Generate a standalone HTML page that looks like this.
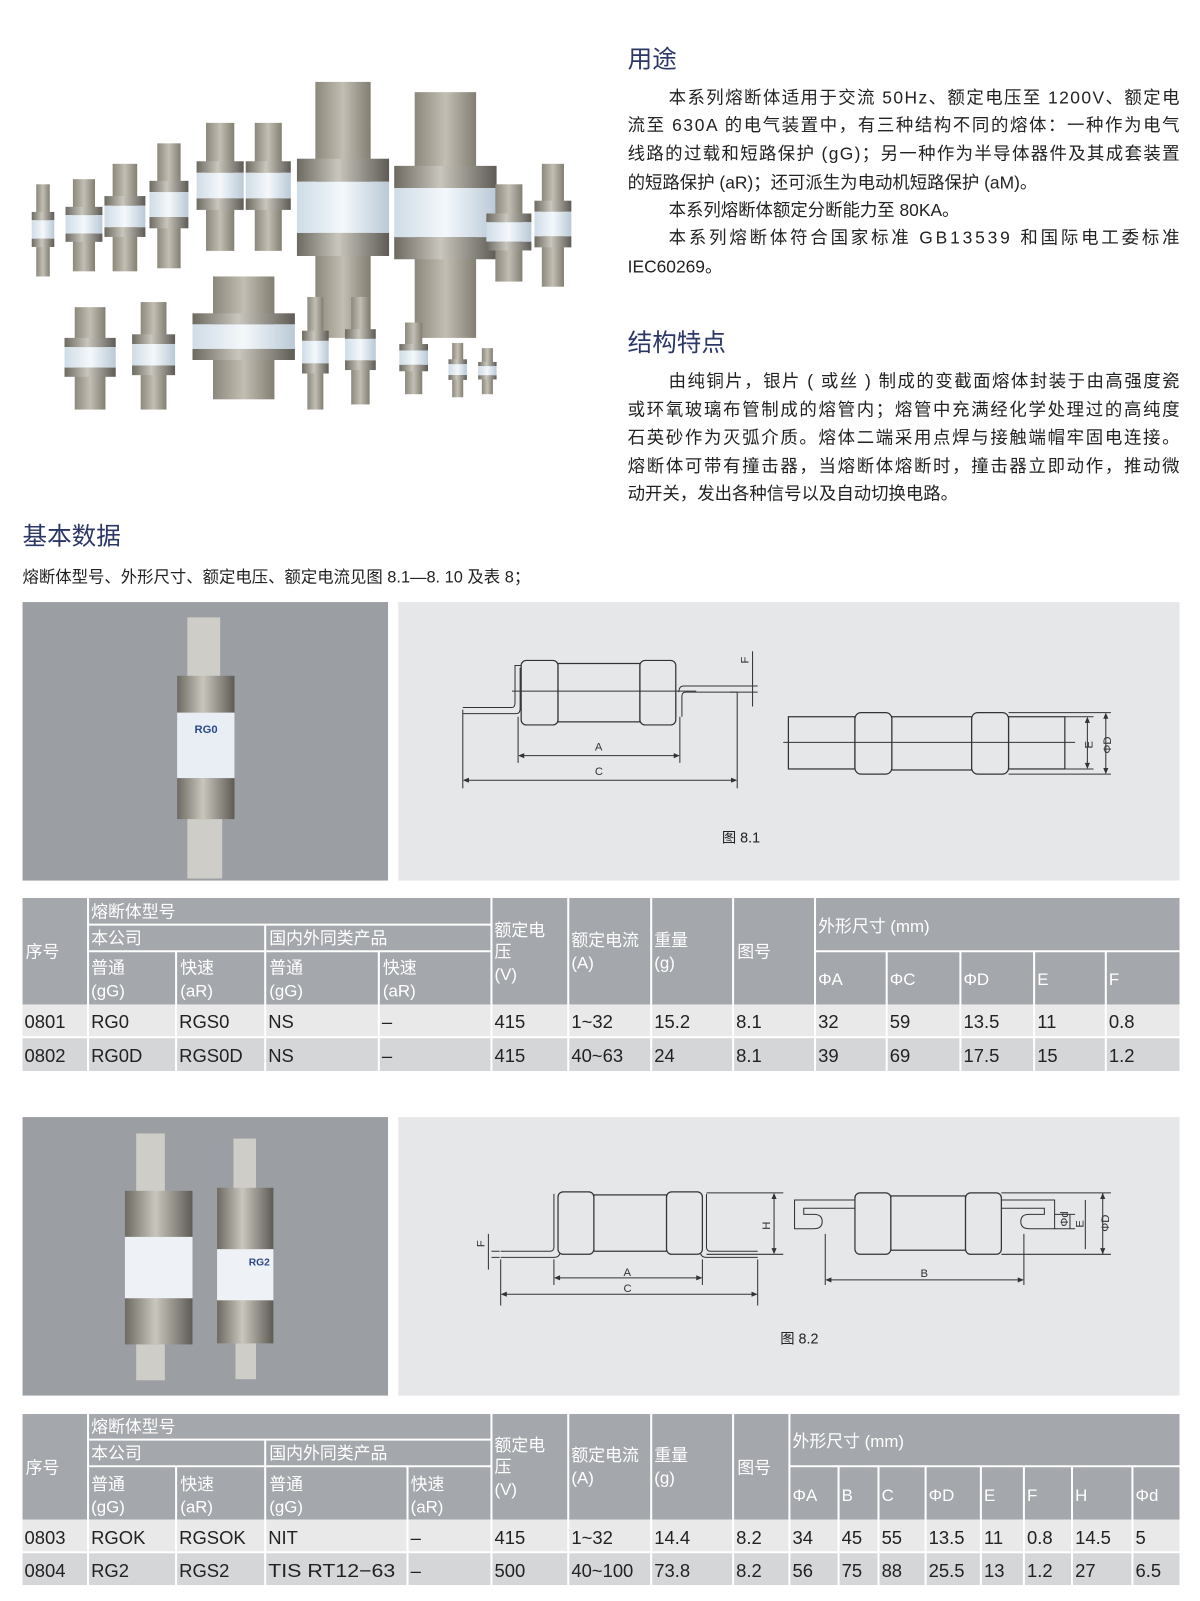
<!DOCTYPE html>
<html><head><meta charset="utf-8"><style>
html,body{margin:0;padding:0;background:#fff}
svg{display:block}
text{font-family:"Liberation Sans","Noto Sans CJK SC",sans-serif}
.b{font-size:17px;fill:#222}
.h{font-size:24px;fill:#2b3766}
.th{font-size:16.5px;fill:#fff}
.td{font-size:18px;fill:#222}
.dl{stroke:#333;stroke-width:1;fill:none}
.df{stroke:#333;stroke-width:1.2;fill:#e6e7e8}
.dt{font-size:11px;fill:#333}
</style></head><body>
<svg width="1200" height="1601" viewBox="0 0 1172 1563.6" preserveAspectRatio="none" xmlns="http://www.w3.org/2000/svg">
<defs>
<linearGradient id="cap" x1="0" x2="1" y1="0" y2="0"><stop offset="0" stop-color="#6d6a62"/><stop offset=".45" stop-color="#c9c6bd"/><stop offset="1" stop-color="#5e5b55"/></linearGradient>
<linearGradient id="tab" x1="0" x2="1"><stop offset="0" stop-color="#8d887c"/><stop offset=".5" stop-color="#c2beb3"/><stop offset="1" stop-color="#837e72"/></linearGradient>
<linearGradient id="lab" x1="0" x2="1"><stop offset="0" stop-color="#cfdce6"/><stop offset=".5" stop-color="#f4f8fb"/><stop offset="1" stop-color="#b9c9d6"/></linearGradient>
<g id="fz">
<rect x="-0.3" y="0" width="0.6" height="1" fill="url(#tab)"/>
<rect x="-0.5" y="0.3" width="1" height="0.09" fill="url(#cap)"/>
<rect x="-0.5" y="0.39" width="1" height="0.2" fill="url(#lab)"/>
<rect x="-0.5" y="0.59" width="1" height="0.09" fill="url(#cap)"/>
</g>
</defs>

<g>
<use href="#fz" transform="translate(42,180) scale(22,90)"/>
<use href="#fz" transform="translate(82,175) scale(36,90)"/>
<use href="#fz" transform="translate(122,160) scale(40,105)"/>
<use href="#fz" transform="translate(165,140) scale(38,122)"/>
<use href="#fz" transform="translate(215,120) scale(46,125)"/>
<use href="#fz" transform="translate(262,120) scale(44,125)"/>
<use href="#fz" transform="translate(335,80) scale(90,250)"/>
<use href="#fz" transform="translate(435,90) scale(100,240)"/>
<use href="#fz" transform="translate(497,180) scale(44,95)"/>
<use href="#fz" transform="translate(540,160) scale(36,120)"/>
<use href="#fz" transform="translate(88,300) scale(50,100)"/>
<use href="#fz" transform="translate(150,295) scale(42,105)"/>
<use href="#fz" transform="translate(238,270) scale(100,120)"/>
<use href="#fz" transform="translate(308,290) scale(26,110)"/>
<use href="#fz" transform="translate(352,290) scale(30,105)"/>
<use href="#fz" transform="translate(404,315) scale(28,70)"/>
<use href="#fz" transform="translate(447,335) scale(18,53)"/>
<use href="#fz" transform="translate(476,340) scale(18,45)"/>
</g>

<text class="h" x="613" y="66">用途</text>
<text class="b" x="653" y="101" textLength="499" lengthAdjust="spacing">本系列熔断体适用于交流 50Hz、额定电压至 1200V、额定电</text>
<text class="b" x="613" y="128" textLength="539" lengthAdjust="spacing">流至 630A 的电气装置中，有三种结构不同的熔体：一种作为电气</text>
<text class="b" x="613" y="156" textLength="539" lengthAdjust="spacing">线路的过载和短路保护 (gG)；另一种作为半导体器件及其成套装置</text>
<text class="b" x="613" y="184">的短路保护 (aR)；还可派生为电动机短路保护 (aM)。</text>
<text class="b" x="653" y="211">本系列熔断体额定分断能力至 80KA。</text>
<text class="b" x="653" y="238" textLength="499" lengthAdjust="spacing">本系列熔断体符合国家标准 GB13539 和国际电工委标准</text>
<text class="b" x="613" y="266">IEC60269。</text>
<text class="h" x="613" y="343">结构特点</text>
<text class="b" x="653" y="378" textLength="499" lengthAdjust="spacing">由纯铜片，银片 ( 或丝 ) 制成的变截面熔体封装于由高强度瓷</text>
<text class="b" x="613" y="406" textLength="539" lengthAdjust="spacing">或环氧玻璃布管制成的熔管内；熔管中充满经化学处理过的高纯度</text>
<text class="b" x="613" y="433" textLength="539" lengthAdjust="spacing">石英砂作为灭弧介质。熔体二端采用点焊与接触端帽牢固电连接。</text>
<text class="b" x="613" y="461" textLength="539" lengthAdjust="spacing">熔断体可带有撞击器，当熔断体熔断时，撞击器立即动作，推动微</text>
<text class="b" x="613" y="488">动开关，发出各种信号以及自动切换电路。</text>

<text class="h" x="22" y="532">基本数据</text>
<text class="b" x="22" y="569" style="font-size:16px">熔断体型号、外形尺寸、额定电压、额定电流见图 8.1—8.  10 及表 8；</text>

<rect x="22" y="588" width="357" height="272" fill="#9b9fa4"/>
<rect x="183" y="603" width="32" height="60" fill="#cfcdc8"/>
<rect x="173" y="660" width="56" height="36" fill="url(#cap)"/>
<rect x="173" y="696" width="56" height="64" fill="#e9eef5"/>
<text x="190" y="716" style="font-size:11px;font-weight:bold;fill:#2c4a8a">RG0</text>
<rect x="173" y="760" width="56" height="40" fill="url(#cap)"/>
<rect x="183" y="800" width="34" height="58" fill="#cfcdc8"/>
<rect x="389" y="588" width="763" height="272" fill="#e6e7e8"/>
<path class="dl" d="M452,691 H500 Q503,691 503,686 V650 H509 M452,697 H504 Q508,697 508,692 V652"/>
<path class="dl" d="M660,676 V700 M663,676 Q663,670 668,670 H720 M666,700 V680 Q666,676 670,676 H720"/>
<rect class="df" x="509" y="645" width="36" height="63" rx="5"/>
<rect class="df" x="545" y="648" width="80" height="57"/>
<rect class="df" x="625" y="645" width="35" height="63" rx="5"/>
<line class="dl" x1="500" y1="675" x2="680" y2="675"/>
<path class="dl" d="M452,693 V770 M720,676 V770 M506,700 V745 M664,700 V745 M735,636 V690 M713,670 H740 M713,676 H740"/>
<path class="dl" d="M508,738 H662 M454,762 H718"/>
<path d="M506,738 l6,-2.5 v5 z M664,738 l-6,-2.5 v5 z M452,762 l6,-2.5 v5 z M720,762 l-6,-2.5 v5 z" fill="#333"/>
<text class="dt" x="581" y="733">A</text>
<text class="dt" x="581" y="757">C</text>
<text class="dt" transform="translate(731,648) rotate(-90)">F</text>
<rect class="df" x="770" y="700" width="65" height="51"/>
<rect class="df" x="871" y="700" width="78" height="52"/>
<rect class="df" x="985" y="700" width="55" height="51"/>
<rect class="df" x="835" y="696" width="36" height="60" rx="6"/>
<rect class="df" x="949" y="696" width="36" height="60" rx="6"/>
<line class="dl" x1="765" y1="725" x2="1050" y2="725"/>
<path class="dl" d="M1040,700 H1068 M1040,751 H1068 M985,696 H1085 M985,756 H1085 M1062,702 V749 M1080,698 V754"/>
<path d="M1062,700 l-2.5,6 h5 z M1062,751 l-2.5,-6 h5 z M1080,696 l-2.5,6 h5 z M1080,756 l-2.5,-6 h5 z" fill="#333"/>
<text class="dt" transform="translate(1067,731) rotate(-90)">E</text>
<text class="dt" transform="translate(1085,736) rotate(-90)">ΦD</text>
<text x="705" y="823" style="font-size:14px;fill:#222">图 8.1</text>

<g>
<rect x="22" y="877" width="1130" height="104" fill="#a4a7ac"/>
<rect x="22" y="981" width="1130" height="32" fill="#e9e9ea"/>
<rect x="22" y="1013" width="1130" height="33" fill="#d5d6d8"/>
<g stroke="#fff" stroke-width="2">
<line x1="86" y1="903" x2="480" y2="903"/>
<line x1="86" y1="929" x2="480" y2="929"/>
<line x1="796" y1="929" x2="1152" y2="929"/>
<line x1="22" y1="1013" x2="1152" y2="1013"/>
<line x1="86" y1="877" x2="86" y2="1046"/>
<line x1="259" y1="903" x2="259" y2="1046"/>
<line x1="172" y1="929" x2="172" y2="1046"/>
<line x1="370" y1="929" x2="370" y2="1046"/>
<line x1="480" y1="877" x2="480" y2="1046"/>
<line x1="555" y1="877" x2="555" y2="1046"/>
<line x1="636" y1="877" x2="636" y2="1046"/>
<line x1="716" y1="877" x2="716" y2="1046"/>
<line x1="796" y1="877" x2="796" y2="1046"/>
<line x1="866" y1="929" x2="866" y2="1046"/>
<line x1="938" y1="929" x2="938" y2="1046"/>
<line x1="1010" y1="929" x2="1010" y2="1046"/>
<line x1="1080" y1="929" x2="1080" y2="1046"/>
</g>
<g class="th">
<text x="25" y="935">序号</text>
<text x="89" y="896">熔断体型号</text>
<text x="89" y="922">本公司</text><text x="263" y="922">国内外同类产品</text>
<text x="89" y="951">普通</text><text x="89" y="973">(gG)</text>
<text x="176" y="951">快速</text><text x="176" y="973">(aR)</text>
<text x="263" y="951">普通</text><text x="263" y="973">(gG)</text>
<text x="374" y="951">快速</text><text x="374" y="973">(aR)</text>
<text x="483" y="914">额定电</text><text x="483" y="935">压</text><text x="483" y="957">(V)</text>
<text x="558" y="924">额定电流</text><text x="558" y="946">(A)</text>
<text x="639" y="924">重量</text><text x="639" y="946">(g)</text>
<text x="720" y="935">图号</text>
<text x="799" y="910">外形尺寸 (mm)</text>
<text x="799" y="962">ΦA</text><text x="869" y="962">ΦC</text><text x="941" y="962">ΦD</text><text x="1013" y="962">E</text><text x="1083" y="962">F</text>
</g>
<g class="td">
<text x="24" y="1004">0801</text><text x="89" y="1004">RG0</text><text x="175" y="1004">RGS0</text><text x="262" y="1004">NS</text><text x="373" y="1004">–</text><text x="483" y="1004">415</text><text x="558" y="1004">1~32</text><text x="639" y="1004">15.2</text><text x="719" y="1004">8.1</text><text x="799" y="1004">32</text><text x="869" y="1004">59</text><text x="941" y="1004">13.5</text><text x="1013" y="1004">11</text><text x="1083" y="1004">0.8</text>
<text x="24" y="1037">0802</text><text x="89" y="1037">RG0D</text><text x="175" y="1037">RGS0D</text><text x="262" y="1037">NS</text><text x="373" y="1037">–</text><text x="483" y="1037">415</text><text x="558" y="1037">40~63</text><text x="639" y="1037">24</text><text x="719" y="1037">8.1</text><text x="799" y="1037">39</text><text x="869" y="1037">69</text><text x="941" y="1037">17.5</text><text x="1013" y="1037">15</text><text x="1083" y="1037">1.2</text>
</g>
</g>

<rect x="22" y="1091" width="357" height="272" fill="#9b9fa4"/>
<rect x="133" y="1107" width="28" height="60" fill="#cfcdc8"/>
<rect x="122" y="1163" width="66" height="45" fill="url(#cap)"/>
<rect x="122" y="1208" width="66" height="60" fill="#eef1f5"/>
<rect x="122" y="1268" width="66" height="45" fill="url(#cap)"/>
<rect x="133" y="1313" width="28" height="35" fill="#cfcdc8"/>
<rect x="228" y="1112" width="22" height="55" fill="#cfcdc8"/>
<rect x="212" y="1160" width="55" height="60" fill="url(#cap)"/>
<rect x="212" y="1220" width="55" height="50" fill="#eef1f5"/>
<text x="243" y="1236" style="font-size:10px;font-weight:bold;fill:#2c4a8a">RG2</text>
<rect x="212" y="1270" width="55" height="42" fill="url(#cap)"/>
<rect x="230" y="1312" width="20" height="35" fill="#cfcdc8"/>
<rect x="389" y="1091" width="763" height="272" fill="#e6e7e8"/>
<path class="dl" d="M489,1222 H537 Q541,1222 541,1218 V1166 M489,1228 H541 Q547,1228 547,1222 M740,1222 H694 Q690,1222 690,1218 V1166 M740,1228 H690 Q684,1228 684,1222"/>
<rect class="df" x="580" y="1167" width="71" height="55"/>
<rect class="df" x="545" y="1164" width="35" height="61" rx="5"/>
<rect class="df" x="651" y="1164" width="35" height="61" rx="5"/>
<path class="dl" d="M489,1230 V1275 M740,1230 V1275 M541,1230 V1255 M686,1230 V1255 M480,1222 H488 M480,1228 H488 M477,1205 V1240 M690,1165 H765 M690,1225 H765 M756,1167 V1223"/>
<path class="dl" d="M543,1248 H684 M491,1264 H738"/>
<path d="M541,1248 l6,-2.5 v5 z M686,1248 l-6,-2.5 v5 z M489,1264 l6,-2.5 v5 z M740,1264 l-6,-2.5 v5 z M756,1165 l-2.5,6 h5 z M756,1225 l-2.5,-6 h5 z" fill="#333"/>
<text class="dt" x="609" y="1246">A</text>
<text class="dt" x="609" y="1262">C</text>
<text class="dt" transform="translate(752,1201) rotate(-90)">H</text>
<text class="dt" transform="translate(473,1218) rotate(-90)">F</text>
<path class="dl" d="M835,1172 H776 V1200 H795 Q803,1200 803,1193 Q803,1186 795,1186 H785 V1180 H835 M978,1172 H1030 V1200 H1005 Q997,1200 997,1193 Q997,1186 1005,1186 H1020 V1180 H978"/>
<rect class="df" x="870" y="1168" width="73" height="53"/>
<rect class="df" x="835" y="1165" width="35" height="60" rx="5"/>
<rect class="df" x="943" y="1165" width="35" height="60" rx="5"/>
<path class="dl" d="M806,1205 V1255 M1000,1205 V1255 M808,1250 H998 M978,1165 H1085 M978,1225 H1085 M1030,1186 H1050 M1030,1200 H1050 M1045,1186 V1200 M1060,1172 V1220 M1077,1165 V1225"/>
<path d="M806,1250 l6,-2.5 v5 z M1000,1250 l-6,-2.5 v5 z M1077,1165 l-2.5,6 h5 z M1077,1225 l-2.5,-6 h5 z" fill="#333"/>
<text class="dt" x="899" y="1247">B</text>
<text class="dt" transform="translate(1043,1198) rotate(-90)">Φd</text>
<text class="dt" transform="translate(1058,1199) rotate(-90)">E</text>
<text class="dt" transform="translate(1083,1203) rotate(-90)">ΦD</text>
<text x="762" y="1312" style="font-size:14px;fill:#222">图 8.2</text>

<g>
<rect x="22" y="1381" width="1130" height="103" fill="#a4a7ac"/>
<rect x="22" y="1484" width="1130" height="32" fill="#e9e9ea"/>
<rect x="22" y="1516" width="1130" height="32" fill="#d5d6d8"/>
<g stroke="#fff" stroke-width="2">
<line x1="86" y1="1406" x2="480" y2="1406"/>
<line x1="86" y1="1432" x2="480" y2="1432"/>
<line x1="771" y1="1432" x2="1152" y2="1432"/>
<line x1="22" y1="1516" x2="1152" y2="1516"/>
<line x1="86" y1="1381" x2="86" y2="1548"/>
<line x1="259" y1="1406" x2="259" y2="1548"/>
<line x1="172" y1="1432" x2="172" y2="1548"/>
<line x1="398" y1="1432" x2="398" y2="1548"/>
<line x1="480" y1="1381" x2="480" y2="1548"/>
<line x1="555" y1="1381" x2="555" y2="1548"/>
<line x1="636" y1="1381" x2="636" y2="1548"/>
<line x1="716" y1="1381" x2="716" y2="1548"/>
<line x1="771" y1="1381" x2="771" y2="1548"/>
<line x1="819" y1="1432" x2="819" y2="1548"/>
<line x1="858" y1="1432" x2="858" y2="1548"/>
<line x1="904" y1="1432" x2="904" y2="1548"/>
<line x1="958" y1="1432" x2="958" y2="1548"/>
<line x1="1000" y1="1432" x2="1000" y2="1548"/>
<line x1="1047" y1="1432" x2="1047" y2="1548"/>
<line x1="1106" y1="1432" x2="1106" y2="1548"/>
</g>
<g class="th">
<text x="25" y="1439">序号</text>
<text x="89" y="1399">熔断体型号</text>
<text x="89" y="1425">本公司</text><text x="263" y="1425">国内外同类产品</text>
<text x="89" y="1455">普通</text><text x="89" y="1477">(gG)</text>
<text x="176" y="1455">快速</text><text x="176" y="1477">(aR)</text>
<text x="263" y="1455">普通</text><text x="263" y="1477">(gG)</text>
<text x="401" y="1455">快速</text><text x="401" y="1477">(aR)</text>
<text x="483" y="1417">额定电</text><text x="483" y="1438">压</text><text x="483" y="1460">(V)</text>
<text x="558" y="1427">额定电流</text><text x="558" y="1449">(A)</text>
<text x="639" y="1427">重量</text><text x="639" y="1449">(g)</text>
<text x="720" y="1439">图号</text>
<text x="774" y="1413">外形尺寸 (mm)</text>
<text x="774" y="1466">ΦA</text><text x="822" y="1466">B</text><text x="861" y="1466">C</text><text x="907" y="1466">ΦD</text><text x="961" y="1466">E</text><text x="1003" y="1466">F</text><text x="1050" y="1466">H</text><text x="1109" y="1466">Φd</text>
</g>
<g class="td">
<text x="24" y="1508">0803</text><text x="89" y="1508">RGOK</text><text x="175" y="1508">RGSOK</text><text x="262" y="1508">NIT</text><text x="401" y="1508">–</text><text x="483" y="1508">415</text><text x="558" y="1508">1~32</text><text x="639" y="1508">14.4</text><text x="719" y="1508">8.2</text><text x="774" y="1508">34</text><text x="822" y="1508">45</text><text x="861" y="1508">55</text><text x="907" y="1508">13.5</text><text x="961" y="1508">11</text><text x="1003" y="1508">0.8</text><text x="1050" y="1508">14.5</text><text x="1109" y="1508">5</text>
<text x="24" y="1540">0804</text><text x="89" y="1540">RG2</text><text x="175" y="1540">RGS2</text><text x="262" y="1540" textLength="124" lengthAdjust="spacingAndGlyphs">TIS RT12−63</text><text x="401" y="1540">–</text><text x="483" y="1540">500</text><text x="558" y="1540">40~100</text><text x="639" y="1540">73.8</text><text x="719" y="1540">8.2</text><text x="774" y="1540">56</text><text x="822" y="1540">75</text><text x="861" y="1540">88</text><text x="907" y="1540">25.5</text><text x="961" y="1540">13</text><text x="1003" y="1540">1.2</text><text x="1050" y="1540">27</text><text x="1109" y="1540">6.5</text>
</g>
</g>
</svg>
</body></html>
